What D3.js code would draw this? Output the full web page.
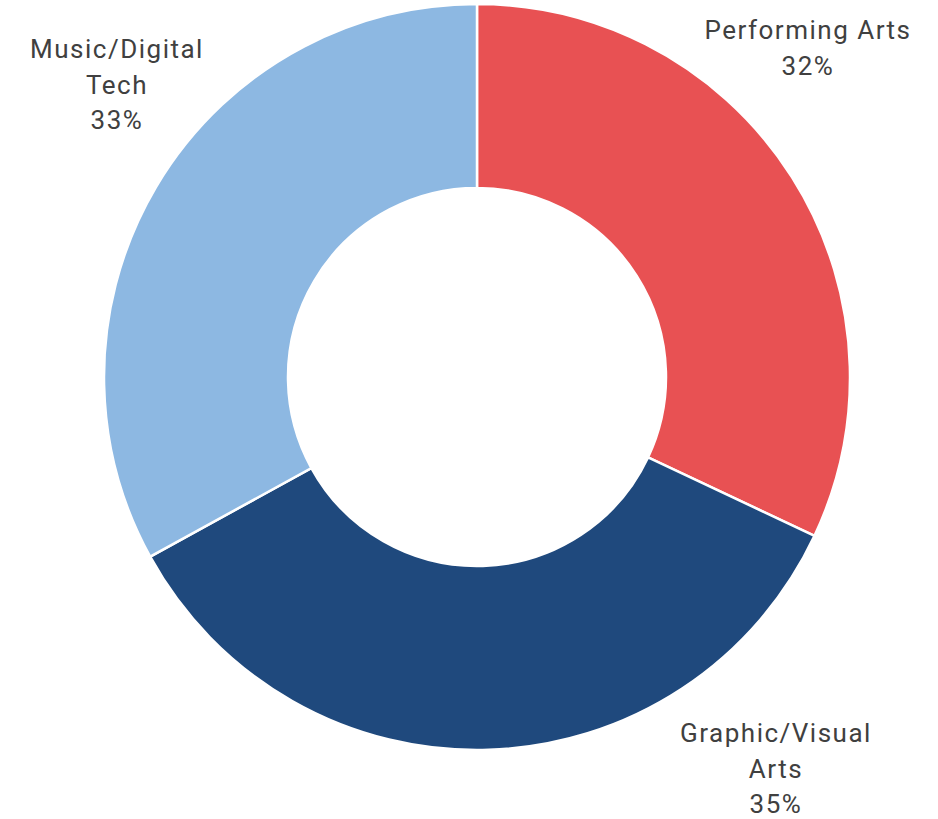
<!DOCTYPE html>
<html>
<head>
<meta charset="utf-8">
<script src="https://cdn.jsdelivr.net/npm/d3@7"></script>
<style>
  body { margin: 0; background: #fff; }
</style>
</head>
<body>
<div id="chart"></div>
<script>
(function(){

    var categories = ['Performing Arts', 'Graphic/Visual Arts', 'Music/Digital Tech'];
    var values = [32, 35, 33];
    var colours = ['#E85153', '#1F497D', '#8DB8E2'];
    // label lines, wrapped as in the original
    var labelLines = [['Performing Arts'], ['Graphic/Visual', 'Arts'], ['Music/Digital', 'Tech']];
    var labelPos = [[808, 30], [776, 733], [117, 49]];

    var width = 938;
    var height = 819;
    var cx = 477, cy = 377;
    var outerR = 373, innerR = 189;

    var data = categories.map(function(c, i){
        return {name: c, value: values[i], colour: colours[i], lines: labelLines[i], pos: labelPos[i]};
    });

    var svg = d3.select('#chart')
        .append('svg')
            .attr('width', width)
            .attr('height', height)
            .style('font-family', 'Roboto, "Open Sans", sans-serif');

    var pie = d3.pie()
        .sort(null)
        .value(function(d){ return d.value; });

    var arc = d3.arc()
        .innerRadius(innerR)
        .outerRadius(outerR);

    var g = svg.append('g')
        .attr('transform', 'translate(' + cx + ',' + cy + ')');

    g.selectAll('path')
        .data(pie(data))
        .enter()
        .append('path')
        .attr('d', arc)
        .attr('fill', function(d){ return d.data.colour; })
        .attr('stroke', '#fff')
        .attr('stroke-width', 2.5);

    var labels = svg.selectAll('.label')
        .data(pie(data))
        .enter()
        .append('text')
        .attr('class', 'label')
        .attr('text-anchor', 'middle')
        .attr('font-size', '26px')
        .attr('letter-spacing', '1.5px')
        .attr('fill', '#404040');

    labels.each(function(d){
        var t = d3.select(this);
        var lines = d.data.lines.concat([Math.round(d.data.value) + '%']);
        lines.forEach(function(l, i){
            t.append('tspan')
                .attr('x', d.data.pos[0])
                .attr('y', d.data.pos[1] + i * 35.5)
                .attr('dy', '0.35em')
                .text(l);
        });
    });

})();
</script>
</body>
</html>
